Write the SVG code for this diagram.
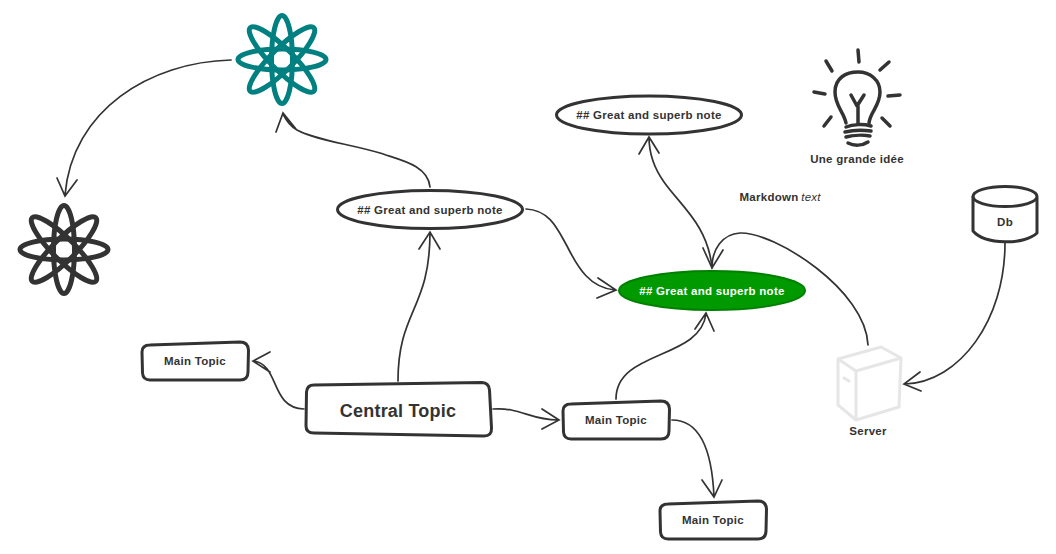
<svg xmlns="http://www.w3.org/2000/svg" width="1056" height="554" viewBox="0 0 1056 554">
<style>
text{font-family:"Liberation Sans",Arial,sans-serif;font-weight:700;fill:#333;text-anchor:middle}
.t{font-size:11.500px;letter-spacing:.28px}
.box{fill:#fff;stroke:#333;stroke-width:3}
.ell{fill:#fff;stroke:#333;stroke-width:3}
.c{fill:none;stroke:#333;stroke-width:1.7;stroke-linecap:round}
.ic{fill:none;stroke:#333;stroke-width:3.500;stroke-linecap:round;stroke-linejoin:round}
.dbs{fill:none;stroke:#333;stroke-width:3;stroke-linecap:round;stroke-linejoin:round}
.atom{fill:none;stroke-width:5}
.srv{fill:none;stroke:#e6e6e6;stroke-width:3;stroke-linejoin:round;stroke-linecap:round}
</style>
<defs>
<g id="atomShape">
<ellipse rx="44" ry="10.500"/>
<ellipse rx="45" ry="11" transform="rotate(45)"/>
<ellipse rx="44" ry="10.500" transform="rotate(90)"/>
<ellipse rx="45" ry="11" transform="rotate(135)"/>
</g>
</defs>
<rect width="1056" height="554" fill="#fff"/>
<g id="connectors">
<path class="c" d="M231 60C150 62 72 110 65 195M57 178L65 196L77 180"/>
<path class="c" d="M430 187C428 165 400 160 380 153C350 144 315 140 297 130C290 126 286 120 283 114M276 132L283 113L296 129"/>
<path class="c" d="M398 381C398 310 430 310 430 232M419 249L430 232L440 249"/>
<path class="c" d="M526 209C550 210 558 230 567 246C578 268 590 288 615 290M598 278L616 290L597 298"/>
<path class="c" d="M712 268C708 225 680 205 664 182C654 168 649 152 649 137M639 154L649 137L659 153"/>
<path class="c" d="M868 345C866 290 775 232 740 233C722 234 712 250 712 267M703 248L712 268L723 250"/>
<path class="c" d="M616 399C616 350 700 360 706 314M695 329L706 313L714 331"/>
<path class="c" d="M304 409C270 408 280 365 254 361M270 352L253 361L270 372"/>
<path class="c" d="M493 409C520 407 530 420 558 420M542 409L559 420L542 429"/>
<path class="c" d="M672 420C700 420 712 450 714 497M702 480L714 497L722 480"/>
<path class="c" d="M1005 243C1005 320 960 382 905 384M920 372L904 384L921 391"/>
</g>
<g id="atom-teal" class="atom" stroke="#008080" transform="translate(282 59.500)"><use href="#atomShape"/></g>
<g id="atom-dark" class="atom" stroke="#333" transform="translate(64 249.500)"><use href="#atomShape"/></g>
<g id="idea">
<path class="ic" d="M858 50L859 62M826 61L832 71M889 62L880 70M814 92L825 94M900 95L888 96M824 126L831 117M890 126L882 118"/>
<path class="ic" d="M846 123C844 112 835 106 835 92C835 78 846 72 858 72C870 72 880 80 880 92C880 106 870 112 869 123M851 95L857 106L864 95M858 106V124"/>
<path class="ic" d="M846 127C853 124 864 124 871 126M845 132C853 130 864 130 871 131M846 137C853 135 864 135 870 136M848 143C854 146 862 146 868 142"/>
<text class="t" x="857" y="163">Une grande idée</text>
</g>
<g id="note-top"><ellipse class="ell" cx="649" cy="115" rx="92.500" ry="19"/><text class="t" x="649" y="119">## Great and superb note</text></g>
<g id="note-mid"><ellipse class="ell" cx="430" cy="209.500" rx="92.500" ry="19"/><text class="t" x="430" y="214">## Great and superb note</text></g>
<g id="note-green"><ellipse cx="712" cy="290.500" rx="93" ry="19.500" fill="#090" stroke="#008000" stroke-width="2"/><text class="t" x="712" y="295" style="fill:#fff">## Great and superb note</text></g>
<g id="md"><text class="t" x="769" y="201">Markdown</text><text x="811" y="201" font-size="11.500" style="font-weight:400;font-style:italic;letter-spacing:.28px">text</text></g>
<g id="db">
<path class="dbs" d="M973 197V231C985 245 1025 245 1037 233V198"/>
<ellipse class="dbs" cx="1005" cy="196.500" rx="32" ry="10"/>
<text class="t" x="1005" y="226">Db</text>
</g>
<g id="server">
<path class="srv" d="M838 359L881 347L901 358L856 371ZM838 359L838 405L856 420L899 407L901 358M856 371V420"/>
<path class="srv" d="M844 378L849 381" stroke-width="2"/>
<text class="t" x="868" y="435">Server</text>
</g>
<g id="central"><path class="box" d="M314 385L482 382.500Q489 383 489.500 390L491.500 428Q492 436 484 436L314 433Q306 433 306 426L306.500 392Q307 385 314 385Z"/><text x="398" y="417" font-size="18" letter-spacing=".2">Central Topic</text></g>
<g id="topic-left"><path class="box" d="M150 345L240 342Q248 342 248.500 350L248 372Q248 380 240 380L150 380Q143 380 142.500 373L142 352Q142 345 150 345Z"/><text class="t" x="195" y="365">Main Topic</text></g>
<g id="topic-right"><path class="box" d="M571 404L661 401Q669 401 669.500 409L669 431Q669 439 661 439L571 439Q564 439 563.500 432L563 411Q563 404 571 404Z"/><text class="t" x="616" y="424">Main Topic</text></g>
<g id="topic-bottom"><path class="box" d="M668 504L758 501Q766 501 766.500 509L766 531Q766 539 758 539L668 539Q661 539 660.500 532L660 511Q660 504 668 504Z"/><text class="t" x="713" y="524">Main Topic</text></g>
</svg>
